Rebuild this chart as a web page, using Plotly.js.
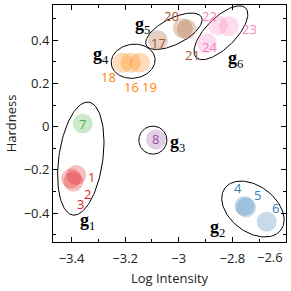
<!DOCTYPE html>
<html><head><meta charset="utf-8">
<script src="https://cdn.plot.ly/plotly-3.0.1.min.js"></script>
<style>html,body{margin:0;padding:0;background:#fff}#chart{width:291px;height:291px}</style>
</head><body><div id="chart"></div>
<script>
// ---- data ----
const pointIds     = ['1','2','3','4','5','6','7','8','16','18','19','17','20','21','22','23','24'];
const logIntensity = [-3.382,-3.401,-3.393,-2.755,-2.749,-2.672,-3.358,-3.085,-3.179,-3.209,-3.145,-3.078,-2.985,-2.970,-2.854,-2.813,-2.895];
const hardness     = [-0.224,-0.240,-0.254,-0.367,-0.374,-0.440, 0.014,-0.059, 0.296, 0.296, 0.296, 0.400, 0.455, 0.450, 0.469, 0.464, 0.386];
const pointColor   = ['red','red','red','blue','blue','blue','green','purple','orange','orange','orange','brown','brown','brown','pink','pink','pink'];
const labelX       = [-3.324,-3.339,-3.365,-2.779,-2.705,-2.641,-3.358,-3.085,-3.175,-3.261,-3.108,-3.074,-3.026,-2.947,-2.884,-2.738,-2.887];
const labelY       = [-0.233,-0.312,-0.358,-0.284,-0.316,-0.374, 0.014,-0.059, 0.182, 0.229, 0.182, 0.386, 0.510, 0.330, 0.510, 0.450, 0.367];

const groupNames  = ['1','2','3','4','5','6'];
const groupLabelX = [-3.339,-2.854,-3.003,-3.291,-3.134,-2.790];
const groupLabelY = [-0.437,-0.469,-0.076, 0.330, 0.469, 0.312];
const groupCenterX = [-3.3653,-2.7233,-3.0965,-3.170,-3.0181,-2.8427];
const groupCenterY = [-0.1478,-0.3811,-0.0624, 0.3025, 0.4411, 0.4342];

const xTickVals = [-3.4,-3.2,-3,-2.8,-2.6];
const yTickVals = [-0.4,-0.2,0,0.2,0.4];

// ---- styling ----
const palette = {red:'#e41a1c', blue:'#377eb8', green:'#4daf4a', purple:'#984ea3', orange:'#ff7f00', brown:'#a65628', pink:'#f781bf'};
function rgba(hex,a){const n=parseInt(hex.slice(1),16);return `rgba(${(n>>16)&255},${(n>>8)&255},${n&255},${a})`;}
// ellipse geometry in pixels: semi-axes and rotation (deg)
const ellipseShape = [[57,22,82],[35,23,-37],[14,14,0],[22,17,8],[31,13,27],[35,15,45]];

const W=291,H=291,M={l:53,r:5,t:5,b:49};
const xRange=[-3.469,-2.6], yRange=[-0.5335,0.5626];
const sx=(W-M.l-M.r)/(xRange[1]-xRange[0]);
const sy=(H-M.t-M.b)/(yRange[1]-yRange[0]);

const traces=[];
groupNames.forEach((g,i)=>{
  const [a,b,th]=ellipseShape[i]; const t0=th*Math.PI/180;
  const ex=[],ey=[];
  for(let k=0;k<=120;k++){const t=2*Math.PI*k/120;
    const px=a*Math.cos(t)*Math.cos(t0)-b*Math.sin(t)*Math.sin(t0);
    const py=a*Math.cos(t)*Math.sin(t0)+b*Math.sin(t)*Math.cos(t0);
    ex.push(groupCenterX[i]+px/sx); ey.push(groupCenterY[i]+py/sy);}
  traces.push({x:ex,y:ey,mode:'lines',line:{color:'#000',width:1},hoverinfo:'skip',showlegend:false});
});
traces.push({x:logIntensity,y:hardness,mode:'markers',showlegend:false,
  marker:{size:20,color:pointColor.map(c=>rgba(palette[c],0.28)),line:{width:0}}});

const annotations=[];
pointIds.forEach((id,i)=>annotations.push({x:labelX[i],y:labelY[i],text:id,showarrow:false,
  font:{family:'Open Sans',size:13,color:palette[pointColor[i]]}}));
groupNames.forEach((g,i)=>annotations.push({x:groupLabelX[i],y:groupLabelY[i],text:'<b>g</b><sub>'+g+'</sub>',showarrow:false,
  font:{family:'Liberation Serif',size:18,color:'#000'}}));
annotations.push({x:-2.659,y:-0.108,xref:'x',yref:'paper',text:'\u22122.6',showarrow:false,
  font:{family:'Open Sans',size:13,color:'#222'}});

const axisCommon={showline:true,linecolor:'#000',linewidth:1,mirror:'ticks',ticks:'inside',ticklen:5,tickcolor:'#000',
  showgrid:false,zeroline:false,tickfont:{family:'Open Sans',size:13,color:'#222'}};
const layout={width:W,height:H,margin:M,paper_bgcolor:'#fff',plot_bgcolor:'#fff',showlegend:false,
  xaxis:Object.assign({},axisCommon,{range:xRange,tickmode:'array',tickvals:xTickVals,ticklabelstandoff:4,
    ticktext:xTickVals.map(v=>v===-2.6?'':String(v).replace('-','\u2212')),
    minor:{dtick:0.1,tick0:-3.4,ticks:'inside',ticklen:3,tickcolor:'#000'},
    title:{text:'Log Intensity',font:{family:'Open Sans',size:13,color:'#222'},standoff:8}}),
  yaxis:Object.assign({},axisCommon,{range:yRange,tickmode:'array',tickvals:yTickVals,
    ticktext:yTickVals.map(v=>String(v).replace('-','\u2212')),
    minor:{dtick:0.1,tick0:0,ticks:'inside',ticklen:3,tickcolor:'#000'},
    title:{text:'Hardness',font:{family:'Open Sans',size:13,color:'#222'},standoff:4}}),
  annotations:annotations};
Plotly.newPlot('chart',traces,layout,{staticPlot:true,displayModeBar:false});
</script></body></html>
